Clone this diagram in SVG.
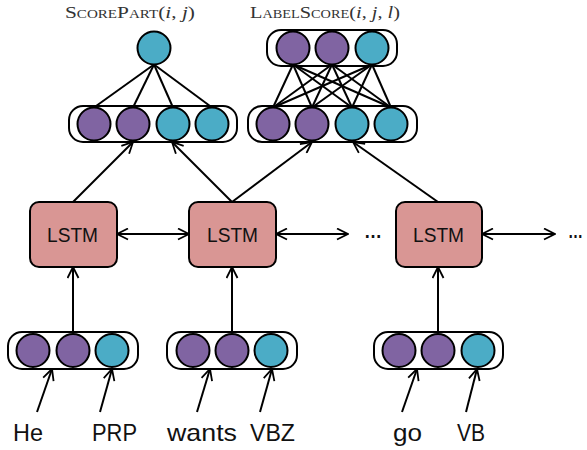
<svg xmlns="http://www.w3.org/2000/svg" width="587" height="450" viewBox="0 0 587 450">
  <style>
    .grp { fill: #ffffff; stroke: #000; stroke-width: 2; }
    .p { fill: #8064A2; stroke: #000; stroke-width: 2; }
    .t { fill: #4BACC6; stroke: #000; stroke-width: 2; }
    .lstm { fill: #D99694; stroke: #000; stroke-width: 2; }
    .lbl { font-family: "Liberation Sans", Arial, sans-serif; fill: #111; }
    .dots { font-family: "Liberation Sans", Arial, sans-serif; fill: #111; font-size: 20px; font-weight: bold; }
    .cap { font-family: "Liberation Serif", "Times New Roman", serif; font-size: 17px; fill: #333; }
    .sc { font-variant: small-caps; }
    .it { font-style: italic; }
    .edge { stroke: #000; stroke-width: 2; fill: none; }
  </style>
  <defs>
    <marker id="arr" viewBox="0 0 13 13" refX="12" refY="6.5" markerWidth="13" markerHeight="13" markerUnits="userSpaceOnUse" orient="auto-start-reverse">
      <path d="M1,1 L12,6.5 L1,12" fill="none" stroke="#000" stroke-width="1.8"/>
    </marker>
  </defs>

  <!-- score heads -->
  <text class="cap" x="65" y="18" textLength="130" lengthAdjust="spacingAndGlyphs"><tspan class="sc">ScorePart</tspan>(<tspan class="it">i</tspan>, <tspan class="it">j</tspan>)</text>
  <text class="cap" x="250" y="18" textLength="150" lengthAdjust="spacingAndGlyphs"><tspan class="sc">LabelScore</tspan>(<tspan class="it">i</tspan>, <tspan class="it">j</tspan>, <tspan class="it">l</tspan>)</text>

  <g id="connectors">
    <!-- span score mesh -->
    <line class="edge" x1="154" y1="64.5" x2="94" y2="107.5"/>
    <line class="edge" x1="154" y1="64.5" x2="133" y2="107.5"/>
    <line class="edge" x1="154" y1="64.5" x2="173" y2="107.5"/>
    <line class="edge" x1="154" y1="64.5" x2="212" y2="107.5"/>
    <!-- label score mesh -->
    <g class="edge">
      <line x1="293" y1="64.5" x2="273" y2="107.5"/>
      <line x1="293" y1="64.5" x2="312" y2="107.5"/>
      <line x1="293" y1="64.5" x2="352" y2="107.5"/>
      <line x1="293" y1="64.5" x2="391" y2="107.5"/>
      <line x1="332" y1="64.5" x2="273" y2="107.5"/>
      <line x1="332" y1="64.5" x2="312" y2="107.5"/>
      <line x1="332" y1="64.5" x2="352" y2="107.5"/>
      <line x1="332" y1="64.5" x2="391" y2="107.5"/>
      <line x1="372" y1="64.5" x2="273" y2="107.5"/>
      <line x1="372" y1="64.5" x2="312" y2="107.5"/>
      <line x1="372" y1="64.5" x2="352" y2="107.5"/>
      <line x1="372" y1="64.5" x2="391" y2="107.5"/>
    </g>
    <!-- LSTM outputs to span features -->
    <line class="edge" x1="73" y1="202" x2="133" y2="142" marker-end="url(#arr)"/>
    <line class="edge" x1="232" y1="202" x2="172" y2="142" marker-end="url(#arr)"/>
    <line class="edge" x1="232" y1="202" x2="312" y2="142" marker-end="url(#arr)"/>
    <line class="edge" x1="438" y1="202" x2="353" y2="142" marker-end="url(#arr)"/>
    <!-- recurrent links -->
    <line class="edge" x1="117" y1="234" x2="189" y2="234" marker-start="url(#arr)" marker-end="url(#arr)"/>
    <line class="edge" x1="276" y1="234" x2="348" y2="234" marker-start="url(#arr)" marker-end="url(#arr)"/>
    <line class="edge" x1="482" y1="234" x2="555" y2="234" marker-start="url(#arr)" marker-end="url(#arr)"/>
    <!-- inputs to LSTMs -->
    <line class="edge" x1="73" y1="332" x2="73" y2="267" marker-end="url(#arr)"/>
    <line class="edge" x1="232" y1="332" x2="232" y2="267" marker-end="url(#arr)"/>
    <line class="edge" x1="438" y1="332" x2="438" y2="267" marker-end="url(#arr)"/>
    <!-- words and tags to embeddings -->
    <line class="edge" x1="37" y1="412" x2="52" y2="369" marker-end="url(#arr)"/>
    <line class="edge" x1="100" y1="412" x2="112" y2="369" marker-end="url(#arr)"/>
    <line class="edge" x1="197" y1="412" x2="210" y2="369" marker-end="url(#arr)"/>
    <line class="edge" x1="260" y1="412" x2="272" y2="369" marker-end="url(#arr)"/>
    <line class="edge" x1="402" y1="412" x2="417" y2="369" marker-end="url(#arr)"/>
    <line class="edge" x1="466" y1="412" x2="477" y2="369" marker-end="url(#arr)"/>
  </g>

  <g id="span-score">
    <circle class="t" cx="154" cy="48" r="16.5"/>
  </g>
  <g id="label-score">
    <rect class="grp" x="267" y="30" width="130" height="36" rx="14"/>
    <circle class="p" cx="293" cy="48" r="16.5"/>
    <circle class="p" cx="332" cy="48" r="16.5"/>
    <circle class="t" cx="372" cy="48" r="16.5"/>
  </g>
  <g id="span-features-left">
    <rect class="grp" x="69" y="106" width="168" height="36" rx="14"/>
    <circle class="p" cx="94" cy="124" r="16.5"/>
    <circle class="p" cx="133" cy="124" r="16.5"/>
    <circle class="t" cx="173" cy="124" r="16.5"/>
    <circle class="t" cx="212" cy="124" r="16.5"/>
  </g>
  <g id="span-features-right">
    <rect class="grp" x="248" y="106" width="169" height="36" rx="14"/>
    <circle class="p" cx="273" cy="124" r="16.5"/>
    <circle class="p" cx="312" cy="124" r="16.5"/>
    <circle class="t" cx="352" cy="124" r="16.5"/>
    <circle class="t" cx="391" cy="124" r="16.5"/>
  </g>

  <g id="lstm-1">
    <rect class="lstm" x="30" y="202" width="87" height="65" rx="9"/>
    <text class="lbl" x="47" y="242" font-size="20" textLength="51" lengthAdjust="spacingAndGlyphs">LSTM</text>
  </g>
  <g id="lstm-2">
    <rect class="lstm" x="189" y="202" width="87" height="65" rx="9"/>
    <text class="lbl" x="207" y="242" font-size="20" textLength="51" lengthAdjust="spacingAndGlyphs">LSTM</text>
  </g>
  <g id="lstm-3">
    <rect class="lstm" x="396" y="202" width="86" height="65" rx="9"/>
    <text class="lbl" x="413" y="242" font-size="20" textLength="51" lengthAdjust="spacingAndGlyphs">LSTM</text>
  </g>
  <text class="dots" x="364" y="238" textLength="18" lengthAdjust="spacingAndGlyphs">…</text>
  <text class="dots" x="568" y="238" textLength="15" lengthAdjust="spacingAndGlyphs">…</text>

  <g id="embed-1">
    <rect class="grp" x="8" y="332" width="130" height="37" rx="14"/>
    <circle class="p" cx="33" cy="350.5" r="16.5"/>
    <circle class="p" cx="73" cy="350.5" r="16.5"/>
    <circle class="t" cx="112" cy="350.5" r="16.5"/>
  </g>
  <g id="embed-2">
    <rect class="grp" x="167" y="332" width="130" height="37" rx="14"/>
    <circle class="p" cx="193" cy="350.5" r="16.5"/>
    <circle class="p" cx="232" cy="350.5" r="16.5"/>
    <circle class="t" cx="271" cy="350.5" r="16.5"/>
  </g>
  <g id="embed-3">
    <rect class="grp" x="374" y="332" width="129" height="37" rx="14"/>
    <circle class="p" cx="399" cy="350.5" r="16.5"/>
    <circle class="p" cx="438" cy="350.5" r="16.5"/>
    <circle class="t" cx="478" cy="350.5" r="16.5"/>
  </g>

  <g id="words">
    <text class="lbl" x="13" y="441" font-size="24" textLength="30" lengthAdjust="spacingAndGlyphs">He</text>
    <text class="lbl" x="92" y="441" font-size="24" textLength="45" lengthAdjust="spacingAndGlyphs">PRP</text>
    <text class="lbl" x="167" y="441" font-size="24" textLength="70" lengthAdjust="spacingAndGlyphs">wants</text>
    <text class="lbl" x="250" y="441" font-size="24" textLength="45" lengthAdjust="spacingAndGlyphs">VBZ</text>
    <text class="lbl" x="393" y="441" font-size="24" textLength="29" lengthAdjust="spacingAndGlyphs">go</text>
    <text class="lbl" x="457" y="441" font-size="24" textLength="28" lengthAdjust="spacingAndGlyphs">VB</text>
  </g>
</svg>
